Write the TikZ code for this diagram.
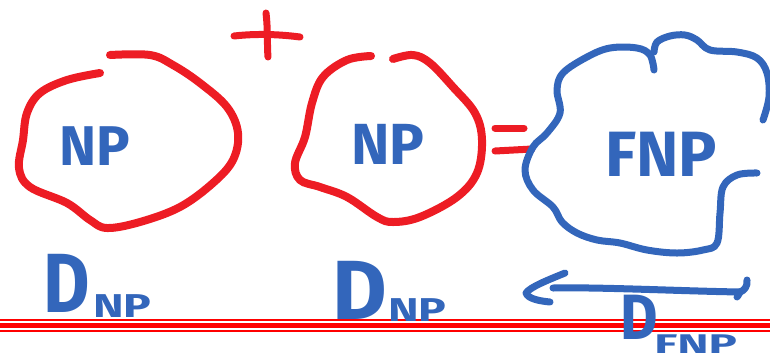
\documentclass[tikz,border=0pt]{standalone}
\usepackage{fontspec}
\setsansfont{Fira Sans}
\definecolor{penred}{HTML}{ED1C24}
\definecolor{penblue}{HTML}{3366BB}
\definecolor{rulered}{HTML}{FF0000}
\begin{document}
\begin{tikzpicture}[x=1pt,y=-1pt,
  redpen/.style={draw=penred, line width=8pt, line cap=round, line join=round},
  bluepen/.style={draw=penblue, line width=7pt, line cap=round, line join=round},
  handtext/.style={text=penblue, inner sep=0pt, font=\sffamily\bfseries},
  rule/.style={draw=rulered},
]
\useasboundingbox (0,0) rectangle (770,360);

% red ruled lines at the bottom
\draw[rule, line width=1.8pt] (0,320) -- (770,320);
\draw[rule, line width=4.5pt] (0,325.5) -- (770,325.5);
\draw[rule, line width=1.8pt] (0,331) -- (770,331);

% left red loop
\draw[redpen] plot[smooth, tension=0.6] coordinates {
  (100,73) (67,80) (40,93) (27,113) (23,140) (19,168) (30,187) (67,203)
  (90,220) (107,228) (140,222) (180,207) (213,183) (233,160) (238,133)
  (227,107) (200,83) (173,65) (150,55) (110,55)};

% plus sign
\draw[redpen, line width=7pt] (234,36) .. controls (260,33) and (285,35) .. (300,37);
\draw[redpen, line width=7pt] (266,13) .. controls (268,30) and (267,45) .. (268,57);

% middle red loop
\draw[redpen] plot[smooth, tension=0.6] coordinates {
  (371,56) (347,60) (323,77) (312,103) (305,137) (295,163) (300,180)
  (320,187) (347,197) (377,217) (393,222) (420,217) (457,197) (477,173)
  (482,140) (475,113) (453,87) (430,63) (413,55) (393,59)};

% equals sign
\draw[redpen, line width=7pt] (495,128) -- (524,128);
\draw[redpen, line width=7pt] (495,151) -- (532,149);

% blue cloud
\draw[bluepen] plot[smooth, tension=0.6] coordinates {
  (654,70) (650,55) (637,48) (610,48) (587,57) (563,73) (557,90) (560,113)
  (547,133) (533,147) (525,170) (533,190) (553,207) (562,222) (577,233)
  (597,240) (620,243) (647,250) (677,253) (703,250) (717,243) (720,213)
  (723,187) (737,175) (757,173)};
\draw[bluepen] plot[smooth, tension=0.6] coordinates {
  (654,52) (657,42) (670,36) (685,35) (697,40) (710,50) (737,52) (757,58)
  (767,73) (769,97) (763,120)};

% labels inside the shapes
\node[handtext, font=\fontsize{56}{56}\selectfont\sffamily\bfseries] (np1) at (95,146) {NP};
\node[handtext, font=\fontsize{58}{58}\selectfont\sffamily\bfseries] (np2) at (388,144) {NP};
\node[handtext, font=\fontsize{64}{64}\selectfont\sffamily\bfseries] (fnp) at (661,154) {FNP};

% D labels
\node[handtext, font=\fontsize{84}{84}\selectfont\sffamily\bfseries, xscale=0.85] (d1) at (67,283) {D};
\node[handtext, font=\fontsize{33}{33}\selectfont\sffamily\bfseries, xscale=1.4, anchor=south west] (d1s) at (93,318) {NP};
\node[handtext, font=\fontsize{84}{84}\selectfont\sffamily\bfseries] (d2) at (360,290) {D};
\node[handtext, font=\fontsize{33}{33}\selectfont\sffamily\bfseries, xscale=1.4, anchor=south west] (d2s) at (388,322) {NP};
\node[handtext, font=\fontsize{64}{64}\selectfont\sffamily\bfseries, xscale=0.9] (d3) at (639,317) {D};
\node[handtext, font=\fontsize{27}{27}\selectfont\sffamily\bfseries, xscale=1.75, anchor=south west] (d3s) at (654,354) {FNP};

% width arrow
\coordinate (arrL) at (553,288);
\coordinate (arrR) at (740,292);
\draw[bluepen] (arrR) .. controls (680,291) and (600,287) .. (arrL);
\draw[bluepen] (565,273) .. controls (548,280) and (530,287) .. (526,293)
  .. controls (528,299) and (540,301) .. (550,302);
\draw[bluepen] (747,280) .. controls (748,286) and (744,291) .. (arrR)
  .. controls (739,294) and (738,296) .. (737,297);
\end{tikzpicture}
\end{document}
